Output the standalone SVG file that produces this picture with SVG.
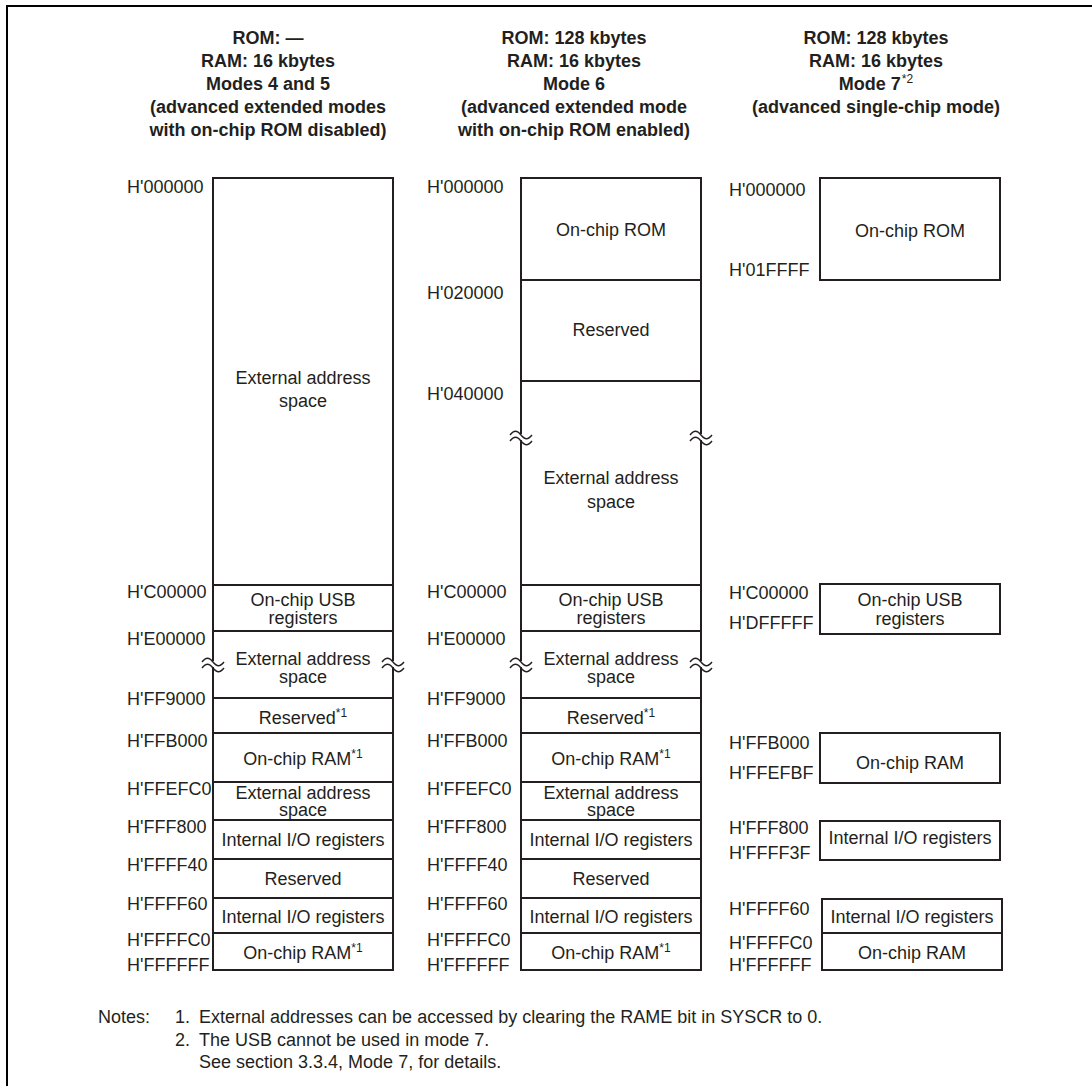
<svg xmlns="http://www.w3.org/2000/svg" width="1092" height="1086" viewBox="0 0 1092 1086">
  <style>
    text { font-family: "Liberation Sans", Arial, Helvetica, sans-serif; font-size: 18px; fill: #231f20; }
    .title { font-weight: bold; text-anchor: middle; }
    .c { text-anchor: middle; }
    .sup { font-size: 12px; font-weight: normal; }
    .box { fill: #fff; stroke: #231f20; stroke-width: 2; }
    .div { stroke: #231f20; stroke-width: 2; fill: none; }
    .frame { stroke: #000; stroke-width: 2; fill: none; }
  </style>
  <defs>
    <!-- break mark across a vertical edge: gap in the line plus two wavy strokes -->
    <g id="brk">
      <rect x="-3" y="-3" width="6" height="6" fill="#fff"/>
      <path d="M-11,-2 c4,-5 7,-5 11,0 s7,5 11,0" fill="none" stroke="#231f20" stroke-width="1.4"/>
      <path d="M-11,4 c4,-5 7,-5 11,0 s7,5 11,0" fill="none" stroke="#231f20" stroke-width="1.4"/>
    </g>
  </defs>

  <rect width="1092" height="1086" fill="#fff"/>
  <path class="frame" d="M7,1086 V6 H1092"/>

  <!-- column headings -->
  <g id="head-modes45">
    <text class="title" x="268" y="44">ROM: —</text>
    <text class="title" x="268" y="67">RAM: 16 kbytes</text>
    <text class="title" x="268" y="90">Modes 4 and 5</text>
    <text class="title" x="268" y="113">(advanced extended modes</text>
    <text class="title" x="268" y="136">with on-chip ROM disabled)</text>
  </g>
  <g id="head-mode6">
    <text class="title" x="574" y="44">ROM: 128 kbytes</text>
    <text class="title" x="574" y="67">RAM: 16 kbytes</text>
    <text class="title" x="574" y="90">Mode 6</text>
    <text class="title" x="574" y="113">(advanced extended mode</text>
    <text class="title" x="574" y="136">with on-chip ROM enabled)</text>
  </g>
  <g id="head-mode7">
    <text class="title" x="876" y="44">ROM: 128 kbytes</text>
    <text class="title" x="876" y="67">RAM: 16 kbytes</text>
    <text class="title" x="876" y="90">Mode 7<tspan class="sup" dx="1" dy="-7">*2</tspan></text>
    <text class="title" x="876" y="113">(advanced single-chip mode)</text>
  </g>

  <!-- Modes 4 and 5 memory map -->
  <g id="map-modes45">
    <rect class="box" x="213" y="178" width="180" height="792"/>
    <path class="div" d="M213,585 H393 M213,631 H393 M213,698 H393 M213,733 H393 M213,782 H393 M213,820 H393 M213,859 H393 M213,898 H393 M213,933 H393"/>
    <use href="#brk" x="213" y="664"/>
    <use href="#brk" x="393" y="664"/>
    <g class="c">
      <text x="303" y="384">External address</text>
      <text x="303" y="407">space</text>
      <text x="303" y="606">On-chip USB</text>
      <text x="303" y="624">registers</text>
      <text x="303" y="665">External address</text>
      <text x="303" y="683">space</text>
      <text x="303" y="724">Reserved<tspan class="sup" dy="-7">*1</tspan></text>
      <text x="303" y="765">On-chip RAM<tspan class="sup" dy="-7">*1</tspan></text>
      <text x="303" y="799">External address</text>
      <text x="303" y="816">space</text>
      <text x="303" y="846">Internal I/O registers</text>
      <text x="303" y="885">Reserved</text>
      <text x="303" y="923">Internal I/O registers</text>
      <text x="303" y="959">On-chip RAM<tspan class="sup" dy="-7">*1</tspan></text>
    </g>
    <g id="addr-modes45">
      <text x="127" y="193">H'000000</text>
      <text x="127" y="598">H'C00000</text>
      <text x="127" y="645">H'E00000</text>
      <text x="127" y="705">H'FF9000</text>
      <text x="127" y="747">H'FFB000</text>
      <text x="127" y="795">H'FFEFC0</text>
      <text x="127" y="833">H'FFF800</text>
      <text x="127" y="871">H'FFFF40</text>
      <text x="127" y="910">H'FFFF60</text>
      <text x="127" y="946">H'FFFFC0</text>
      <text x="127" y="971">H'FFFFFF</text>
    </g>
  </g>

  <!-- Mode 6 memory map -->
  <g id="map-mode6">
    <rect class="box" x="521" y="178" width="180" height="792"/>
    <path class="div" d="M521,280 H701 M521,381 H701 M521,585 H701 M521,631 H701 M521,698 H701 M521,733 H701 M521,782 H701 M521,820 H701 M521,859 H701 M521,898 H701 M521,933 H701"/>
    <use href="#brk" x="521" y="437"/>
    <use href="#brk" x="701" y="437"/>
    <use href="#brk" x="521" y="664"/>
    <use href="#brk" x="701" y="664"/>
    <g class="c">
      <text x="611" y="236">On-chip ROM</text>
      <text x="611" y="336">Reserved</text>
      <text x="611" y="484">External address</text>
      <text x="611" y="508">space</text>
      <text x="611" y="606">On-chip USB</text>
      <text x="611" y="624">registers</text>
      <text x="611" y="665">External address</text>
      <text x="611" y="683">space</text>
      <text x="611" y="724">Reserved<tspan class="sup" dy="-7">*1</tspan></text>
      <text x="611" y="765">On-chip RAM<tspan class="sup" dy="-7">*1</tspan></text>
      <text x="611" y="799">External address</text>
      <text x="611" y="816">space</text>
      <text x="611" y="846">Internal I/O registers</text>
      <text x="611" y="885">Reserved</text>
      <text x="611" y="923">Internal I/O registers</text>
      <text x="611" y="959">On-chip RAM<tspan class="sup" dy="-7">*1</tspan></text>
    </g>
    <g id="addr-mode6">
      <text x="427" y="193">H'000000</text>
      <text x="427" y="299">H'020000</text>
      <text x="427" y="400">H'040000</text>
      <text x="427" y="598">H'C00000</text>
      <text x="427" y="645">H'E00000</text>
      <text x="427" y="705">H'FF9000</text>
      <text x="427" y="747">H'FFB000</text>
      <text x="427" y="795">H'FFEFC0</text>
      <text x="427" y="833">H'FFF800</text>
      <text x="427" y="871">H'FFFF40</text>
      <text x="427" y="910">H'FFFF60</text>
      <text x="427" y="946">H'FFFFC0</text>
      <text x="427" y="971">H'FFFFFF</text>
    </g>
  </g>

  <!-- Mode 7 memory map -->
  <g id="map-mode7">
    <g id="m7-rom">
      <rect class="box" x="820" y="178" width="180" height="102"/>
      <text class="c" x="910" y="237">On-chip ROM</text>
      <text x="729" y="196">H'000000</text>
      <text x="729" y="276">H'01FFFF</text>
    </g>
    <g id="m7-usb">
      <rect class="box" x="820" y="584" width="180" height="50"/>
      <text class="c" x="910" y="606">On-chip USB</text>
      <text class="c" x="910" y="625">registers</text>
      <text x="729" y="599">H'C00000</text>
      <text x="729" y="629">H'DFFFFF</text>
    </g>
    <g id="m7-ram">
      <rect class="box" x="820" y="733" width="180" height="50"/>
      <text class="c" x="910" y="769">On-chip RAM</text>
      <text x="729" y="749">H'FFB000</text>
      <text x="729" y="779">H'FFEFBF</text>
    </g>
    <g id="m7-io1">
      <rect class="box" x="820" y="821" width="180" height="39"/>
      <text class="c" x="910" y="844">Internal I/O registers</text>
      <text x="729" y="834">H'FFF800</text>
      <text x="729" y="859">H'FFFF3F</text>
    </g>
    <g id="m7-io2">
      <rect class="box" x="822" y="899" width="180" height="34"/>
      <text class="c" x="912" y="923">Internal I/O registers</text>
      <text x="729" y="915">H'FFFF60</text>
    </g>
    <g id="m7-ram2">
      <rect class="box" x="822" y="933" width="180" height="37"/>
      <text class="c" x="912" y="959">On-chip RAM</text>
      <text x="729" y="949">H'FFFFC0</text>
      <text x="729" y="971">H'FFFFFF</text>
    </g>
  </g>

  <!-- footnotes -->
  <g id="notes">
    <text x="98" y="1023">Notes:</text>
    <text x="175" y="1023">1.</text>
    <text x="199" y="1023">External addresses can be accessed by clearing the RAME bit in SYSCR to 0.</text>
    <text x="175" y="1046">2.</text>
    <text x="199" y="1046">The USB cannot be used in mode 7.</text>
    <text x="199" y="1068">See section 3.3.4, Mode 7, for details.</text>
  </g>
</svg>
